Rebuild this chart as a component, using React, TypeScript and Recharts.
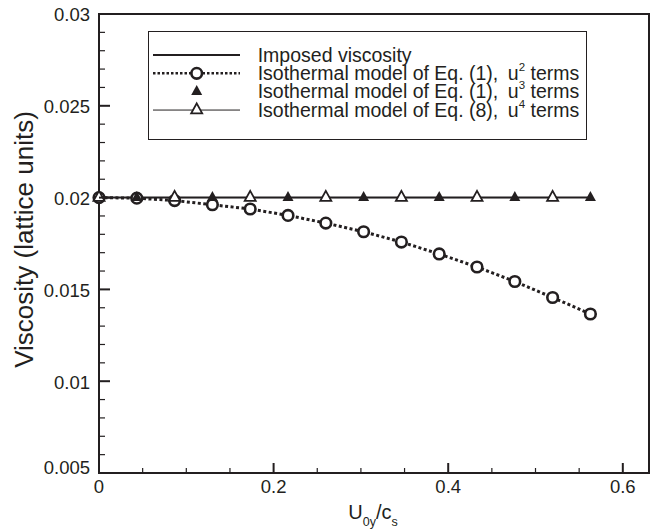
import { ComposedChart, Line, XAxis, YAxis, Legend, ReferenceArea } from "recharts";

const INK = "#231f20";
const FONT = '"Liberation Sans", Arial, Helvetica, sans-serif';

// U0y/cs for each run
const u0y = [0, 0.0433, 0.0866, 0.1299, 0.1732, 0.2165, 0.2598, 0.3031, 0.3464, 0.3897, 0.433, 0.4763, 0.5196, 0.5629];
const imposed = [0.02, 0.02, 0.02, 0.02, 0.02, 0.02, 0.02, 0.02, 0.02, 0.02, 0.02, 0.02, 0.02, 0.02];
const isoU2 = [0.02, 0.01997, 0.01984, 0.01961, 0.01938, 0.01903, 0.01861, 0.01814, 0.01758, 0.01693, 0.01622, 0.01543, 0.01456, 0.01366];
const isoU3 = [null, 0.02, null, 0.02, null, 0.02, null, 0.02, null, 0.02, null, 0.02, null, 0.02];
const isoU4 = [0.02, null, 0.02, null, 0.02, null, 0.02, null, 0.02, null, 0.02, null, 0.02, null];

const xMajorTicks = [0, 0.2, 0.4, 0.6];
const xTickLabels = ["0", "0.2", "0.4", "0.6"];
const xMinorTicks = [0.05, 0.1, 0.15, 0.25, 0.3, 0.35, 0.45, 0.5, 0.55];
const yMajorTicks = [0.005, 0.01, 0.015, 0.02, 0.025, 0.03];
const yTickLabels = ["0.005", "0.01", "0.015", "0.02", "0.025", "0.03"];
const yMinorTicks = [
  0.006, 0.007, 0.008, 0.009, 0.011, 0.012, 0.013, 0.014, 0.016, 0.017, 0.018, 0.019,
  0.021, 0.022, 0.023, 0.024, 0.026, 0.027, 0.028, 0.029,
];

const legendLabels = [
  "Imposed viscosity",
  "Isothermal model of Eq. (1),",
  "Isothermal model of Eq. (1),",
  "Isothermal model of Eq. (8),",
];
const legendPowers = ["", "2", "3", "4"];

const rows = u0y.map((x, i) => ({
  x,
  imposed: imposed[i],
  u2: isoU2[i],
  u3: isoU3[i],
  u4: isoU4[i],
}));

function triPath(cx: number, cy: number, w: number, h: number) {
  return `M${cx},${cy - (2 * h) / 3} L${cx + w / 2},${cy + h / 3} L${cx - w / 2},${cy + h / 3} Z`;
}

const CircleDot = (p: any) => {
  if (p.cy == null || p.value == null) return <g key={p.key} />;
  return <circle key={p.key} cx={p.cx} cy={p.cy} r={5.3} fill="#fff" stroke={INK} strokeWidth={2.6} />;
};

const FilledTri = (p: any) => {
  if (p.cy == null || p.value == null) return <g key={p.key} />;
  return <path key={p.key} d={triPath(p.cx, p.cy, 11, 10)} fill={INK} />;
};

const OpenTri = (p: any) => {
  if (p.cy == null || p.value == null) return <g key={p.key} />;
  return <path key={p.key} d={triPath(p.cx, p.cy, 11, 10)} fill="#fff" stroke={INK} strokeWidth={1.8} />;
};

const XTick = (props: any) => {
  const { x, y, payload } = props;
  const i = xMajorTicks.indexOf(payload.value);
  const major = i >= 0;
  return (
    <g>
      <line x1={x} x2={x} y1={y} y2={y - (major ? 10 : 5)} stroke={INK} strokeWidth={major ? 2 : 1.2} />
      {major && (
        <text x={x} y={y + 20} textAnchor="middle" fontSize={18.5} fontFamily={FONT} fill={INK}>
          {xTickLabels[i]}
        </text>
      )}
    </g>
  );
};

const YTick = (props: any) => {
  const { x, y, payload } = props;
  const i = yMajorTicks.indexOf(payload.value);
  const major = i >= 0;
  return (
    <g>
      <line x1={x} x2={x + (major ? 11 : 6)} y1={y} y2={y} stroke={INK} strokeWidth={major ? 2 : 1.2} />
      {major && (
        <text
          x={x - 9}
          y={i === 0 ? y - 5 : y + 1}
          dy="0.35em"
          textAnchor="end"
          fontSize={18.5}
          fontFamily={FONT}
          fill={INK}
        >
          {yTickLabels[i]}
        </text>
      )}
    </g>
  );
};

const XTitle = (props: any) => {
  const vb = props.viewBox || {};
  const cx = vb.x + vb.width / 2 - 1;
  return (
    <text x={cx} y={519} textAnchor="middle" fontSize={20} fontFamily={FONT} fill={INK}>
      U<tspan fontSize={12.5} dy={7}>0y</tspan>
      <tspan dy={-7}>/c</tspan>
      <tspan fontSize={12.5} dy={7}>s</tspan>
    </text>
  );
};

const YTitle = (props: any) => {
  const vb = props.viewBox || {};
  const cy = vb.y + vb.height / 2 - 4;
  return (
    <text
      x={33}
      y={cy}
      transform={`rotate(-90, 33, ${cy})`}
      textAnchor="middle"
      fontSize={26}
      fontFamily={FONT}
      fill={INK}
    >
      Viscosity (lattice units)
    </text>
  );
};

function LegendBox() {
  const rowY = (i: number) => 24 + i * 18.35;
  return (
    <svg width={440} height={110} style={{ display: "block" }}>
      <rect x={0.5} y={0.5} width={438} height={108} fill="#fff" stroke={INK} strokeWidth={1} />
      {/* sample marks */}
      <line x1={5} x2={92} y1={rowY(0)} y2={rowY(0)} stroke={INK} strokeWidth={2} />
      <line x1={5} x2={92} y1={rowY(1)} y2={rowY(1)} stroke={INK} strokeWidth={2.5} strokeDasharray="2.5 2" />
      <circle cx={48.7} cy={rowY(1)} r={5.3} fill="#fff" stroke={INK} strokeWidth={2.6} />
      <path d={triPath(48.7, rowY(2), 11, 10)} fill={INK} />
      <line x1={5} x2={92} y1={rowY(3)} y2={rowY(3)} stroke={INK} strokeWidth={1} />
      <path d={triPath(48.7, rowY(3), 11, 10)} fill="#fff" stroke={INK} strokeWidth={1.8} />
      {legendLabels.map((label, i) => (
        <text key={i} x={109.7} y={rowY(i) + 6.7} fontSize={19.5} fontFamily={FONT} fill={INK}>
          {label}
          {legendPowers[i] && (
            <>
              <tspan dx={9.5}>u</tspan>
              <tspan fontSize={11.5} dy={-9}>{legendPowers[i]}</tspan>
              <tspan dy={9}> terms</tspan>
            </>
          )}
        </text>
      ))}
    </svg>
  );
}

export default function App() {
  return (
    <div style={{ position: "absolute", left: 0, top: 0, fontFamily: FONT, background: "#fff" }}>
      <ComposedChart width={654} height={532} data={rows} margin={{ top: 14, right: 5, bottom: 0, left: 0 }}>
        <ReferenceArea
          x1={0}
          x2={0.63}
          y1={0.005}
          y2={0.03}
          fill="none"
          stroke={INK}
          strokeWidth={2}
          ifOverflow="visible"
        />
        <XAxis
          dataKey="x"
          type="number"
          domain={[0, 0.63]}
          ticks={[...xMajorTicks, ...xMinorTicks].sort((a, b) => a - b)}
          interval={0}
          tick={<XTick />}
          tickSize={0}
          tickMargin={0}
          tickLine={false}
          axisLine={false}
          height={59}
          label={<XTitle />}
        />
        <YAxis
          type="number"
          domain={[0.005, 0.03]}
          ticks={[...yMajorTicks, ...yMinorTicks].sort((a, b) => a - b)}
          interval={0}
          tick={<YTick />}
          tickSize={0}
          tickMargin={0}
          tickLine={false}
          axisLine={false}
          width={99}
          label={<YTitle />}
        />
        <Legend
          layout="vertical"
          align="center"
          verticalAlign="middle"
          wrapperStyle={{ left: 148, top: 31, width: 440, height: 110 }}
          content={() => <LegendBox />}
        />
        <Line dataKey="imposed" stroke={INK} strokeWidth={2} dot={false} isAnimationActive={false} />
        <Line dataKey="u4" stroke={INK} strokeWidth={1} connectNulls dot={false} isAnimationActive={false} />
        <Line
          dataKey="u2"
          stroke={INK}
          strokeWidth={3}
          strokeDasharray="3 2.5"
          dot={CircleDot}
          isAnimationActive={false}
        />
        <Line dataKey="u3" stroke="none" strokeWidth={0} dot={FilledTri} isAnimationActive={false} />
        <Line dataKey="u4" stroke="none" strokeWidth={0} dot={OpenTri} isAnimationActive={false} />
      </ComposedChart>
    </div>
  );
}
